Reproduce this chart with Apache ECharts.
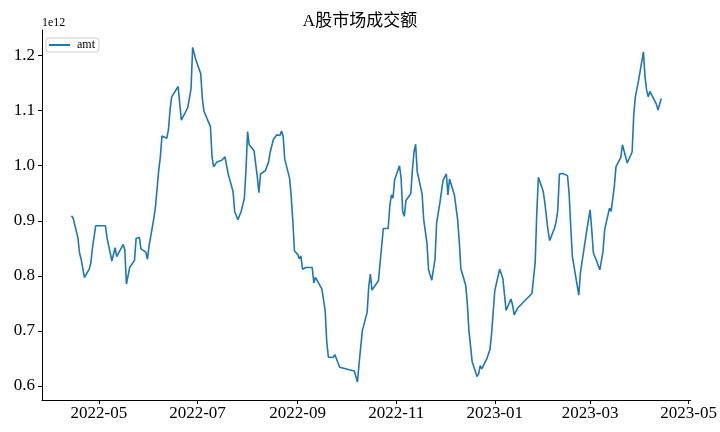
<!DOCTYPE html>
<html>
<head>
<meta charset="utf-8">
<script src="https://cdn.jsdelivr.net/npm/echarts@6/dist/echarts.min.js"></script>
<style>html,body{margin:0;padding:0;background:#fff}#c{width:720px;height:432px}</style>
</head>
<body>
<div id="c"></div>
<script>
// Dates (trading days)
var dates = [
'2022-04-14','2022-04-15','2022-04-18','2022-04-19','2022-04-20','2022-04-21','2022-04-22','2022-04-25','2022-04-26','2022-04-27',
'2022-04-28','2022-04-29','2022-05-05','2022-05-06','2022-05-09','2022-05-10','2022-05-11','2022-05-12','2022-05-13','2022-05-16',
'2022-05-17','2022-05-18','2022-05-19','2022-05-20','2022-05-23','2022-05-24','2022-05-25','2022-05-26','2022-05-27','2022-05-30',
'2022-05-31','2022-06-01','2022-06-04','2022-06-05','2022-06-07','2022-06-08','2022-06-09','2022-06-12','2022-06-13','2022-06-14',
'2022-06-15','2022-06-19','2022-06-20','2022-06-21','2022-06-22','2022-06-23','2022-06-25','2022-06-27','2022-06-28','2022-06-30',
'2022-07-03','2022-07-04','2022-07-05','2022-07-09','2022-07-10','2022-07-11','2022-07-12','2022-07-13','2022-07-16','2022-07-18',
'2022-07-19','2022-07-20','2022-07-23','2022-07-24','2022-07-26','2022-07-27','2022-07-28','2022-07-30','2022-07-31','2022-08-01',
'2022-08-02','2022-08-05','2022-08-07','2022-08-08','2022-08-09','2022-08-12','2022-08-14','2022-08-15','2022-08-16','2022-08-17',
'2022-08-19','2022-08-20','2022-08-21','2022-08-22','2022-08-23','2022-08-24','2022-08-27','2022-08-28','2022-08-29','2022-08-30',
'2022-09-01','2022-09-02','2022-09-03','2022-09-04','2022-09-05','2022-09-06','2022-09-10','2022-09-11','2022-09-12','2022-09-13',
'2022-09-16','2022-09-18','2022-09-19','2022-09-20','2022-09-23','2022-09-24','2022-09-25','2022-09-27','2022-10-06','2022-10-08',
'2022-10-09','2022-10-11','2022-10-14','2022-10-15','2022-10-16','2022-10-17','2022-10-21','2022-10-24','2022-10-27','2022-10-28',
'2022-10-29','2022-10-30','2022-10-31','2022-11-03','2022-11-04','2022-11-05','2022-11-06','2022-11-07','2022-11-10','2022-11-11',
'2022-11-12','2022-11-13','2022-11-14','2022-11-17','2022-11-18','2022-11-20','2022-11-21','2022-11-23','2022-11-25','2022-11-26',
'2022-11-28','2022-11-30','2022-12-02','2022-12-03','2022-12-04','2022-12-07','2022-12-09','2022-12-10','2022-12-11','2022-12-14',
'2022-12-15','2022-12-16','2022-12-18','2022-12-21','2022-12-22','2022-12-23','2022-12-24','2022-12-27','2022-12-29','2022-12-30',
'2023-01-01','2023-01-04','2023-01-06','2023-01-08','2023-01-11','2023-01-12','2023-01-13','2023-01-14','2023-01-15','2023-01-24',
'2023-01-26','2023-01-27','2023-01-28','2023-01-31','2023-02-01','2023-02-03','2023-02-04','2023-02-05','2023-02-07','2023-02-08',
'2023-02-09','2023-02-10','2023-02-12','2023-02-15','2023-02-16','2023-02-17','2023-02-18','2023-02-20','2023-02-22','2023-02-23',
'2023-02-25','2023-02-27','2023-03-01','2023-03-02','2023-03-03','2023-03-05','2023-03-07','2023-03-08','2023-03-09','2023-03-10',
'2023-03-13','2023-03-14','2023-03-15','2023-03-16','2023-03-17','2023-03-20','2023-03-21','2023-03-22','2023-03-24','2023-03-27',
'2023-03-28','2023-03-29','2023-03-31','2023-04-03','2023-04-04','2023-04-05','2023-04-06','2023-04-07','2023-04-10','2023-04-11',
'2023-04-12','2023-04-13','2023-04-14'
];
// Turnover amount, in units of 1e12
var amt = [
0.909,0.905,0.869,0.841,0.830,0.829,0.797,0.812,0.824,0.851,
0.850,0.891,0.891,0.869,0.827,0.828,0.851,0.835,0.835,0.857,
0.847,0.785,0.782,0.815,0.828,0.868,0.867,0.870,0.849,0.843,
0.830,0.854,0.905,0.926,0.992,1.016,1.054,1.050,1.065,1.101,
1.125,1.144,1.143,1.083,1.080,1.094,1.106,1.140,1.215,1.192,
1.167,1.122,1.099,1.071,1.016,0.998,0.995,1.007,1.010,1.016,
1.015,0.985,0.953,0.917,0.902,0.902,0.917,0.941,0.992,1.062,
1.038,1.027,0.980,0.951,0.985,0.991,1.007,1.025,1.024,1.048,
1.056,1.057,1.055,1.063,1.054,1.012,0.977,0.944,0.899,0.845,
0.839,0.831,0.836,0.812,0.809,0.815,0.815,0.787,0.797,0.797,
0.776,0.737,0.680,0.652,0.652,0.657,0.655,0.634,0.627,0.607,
0.640,0.700,0.734,0.781,0.803,0.774,0.791,0.886,0.886,0.926,
0.947,0.941,0.974,1.000,0.978,0.917,0.908,0.937,0.949,0.992,
1.025,1.039,0.989,0.949,0.902,0.860,0.811,0.792,0.830,0.896,
0.932,0.974,0.985,0.947,0.976,0.947,0.902,0.863,0.813,0.783,
0.749,0.700,0.644,0.617,0.622,0.637,0.631,0.649,0.666,0.694,
0.773,0.812,0.795,0.737,0.758,0.747,0.729,0.729,0.741,0.768,
0.824,0.915,0.979,0.953,0.932,0.881,0.864,0.872,0.887,0.899,
0.920,0.985,0.986,0.982,0.950,0.890,0.836,0.800,0.765,0.806,
0.845,0.884,0.920,0.884,0.842,0.827,0.811,0.811,0.845,0.884,
0.923,0.917,0.915,0.963,0.998,1.015,1.038,1.041,1.005,1.025,
1.092,1.125,1.155,1.207,1.161,1.137,1.125,1.135,1.118,1.112,
1.101,1.101,1.122
];
var xTickLabels = ['2022-05','2022-07','2022-09','2022-11','2023-01','2023-03','2023-05'];
var yTickValues = [0.6,0.7,0.8,0.9,1.0,1.1,1.2];

function ts(s){ var p=s.split('-'); return Date.UTC(+p[0], +p[1]-1, p.length>2?+p[2]:1); }
var seriesData = dates.map(function(d,i){ return [ts(d), amt[i]]; });
var t0 = ts(dates[0]), t1 = ts(dates[dates.length-1]);
var pad = (t1 - t0) * 0.05;
var xTicks = xTickLabels.map(ts);
var serif = '"Liberation Serif", "Noto Sans CJK SC", serif';

var chart = echarts.init(document.getElementById('c'), null, {renderer:'canvas'});
chart.setOption({
  animation: false,
  backgroundColor: '#fff',
  title: {
    text: 'A股市场成交额', left: 'center', top: 8,
    textStyle: {fontFamily: serif, fontSize: 17, fontWeight: 'normal', color: '#000'}
  },
  legend: {
    left: 46, top: 38, orient: 'vertical',
    backgroundColor: 'rgba(255,255,255,0.8)', borderColor: '#ccc', borderWidth: 1, borderRadius: 3,
    padding: [1, 4, 1, 3],
    icon: 'rect', itemWidth: 21, itemHeight: 2,
    textStyle: {fontFamily: serif, fontSize: 12, color: '#000', padding: [0,0,0,2]},
    data: ['amt']
  },
  graphic: [{
    type: 'text', left: 42, top: 17,
    style: {text: '1e12', font: '12px ' + serif, fill: '#000'}
  }],
  grid: {left: 42, right: 29, top: 30, bottom: 32},
  xAxis: {
    type: 'value', min: t0 - pad, max: t1 + pad,
    splitLine: {show: false},
    axisLine: {show: true, lineStyle: {color: '#000', width: 1}},
    axisTick: {show: true, length: 4, lineStyle: {color: '#000'}, customValues: xTicks},
    axisLabel: {
      customValues: xTicks, margin: 5, color: '#000', fontFamily: serif, fontSize: 17,
      formatter: function(v){ var d=new Date(v); var m=d.getUTCMonth()+1; return d.getUTCFullYear()+'-'+(m<10?'0':'')+m; }
    }
  },
  yAxis: {
    type: 'value', min: 0.5744, max: 1.2466,
    splitLine: {show: false},
    axisLine: {show: true, lineStyle: {color: '#000', width: 1}},
    axisTick: {show: true, length: 4, lineStyle: {color: '#000'}, customValues: yTickValues},
    axisLabel: {
      customValues: yTickValues, margin: 7, color: '#000', fontFamily: serif, fontSize: 17,
      formatter: function(v){ return v.toFixed(1); }
    }
  },
  series: [{
    name: 'amt', type: 'line', data: seriesData, showSymbol: false, symbol: 'none',
    itemStyle: {color: '#1f77b4'},
    lineStyle: {color: '#1f77b4', width: 1.6}
  }]
});
</script>
</body>
</html>
